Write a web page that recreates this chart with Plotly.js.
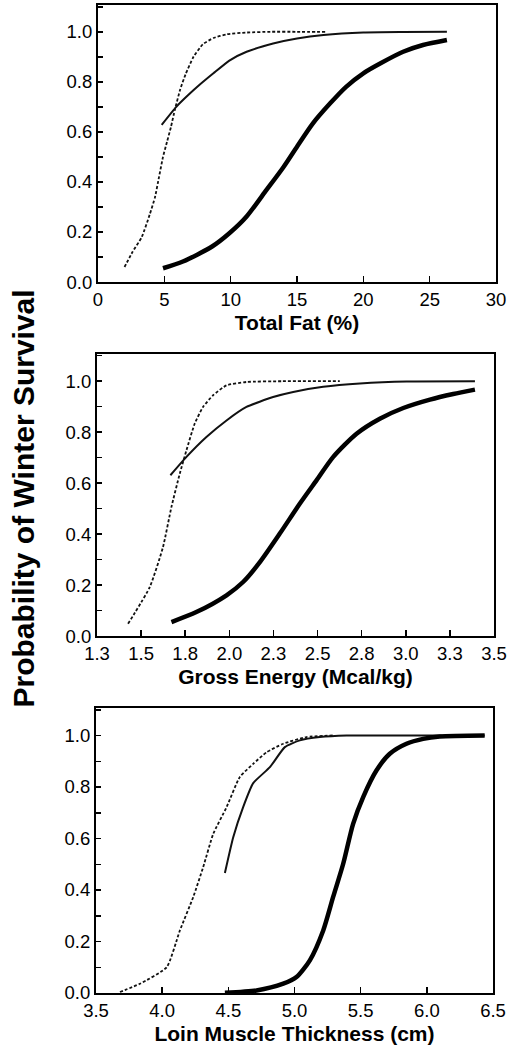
<!DOCTYPE html>
<html><head><meta charset="utf-8">
<script src="https://cdn.plot.ly/plotly-3.0.1.min.js"></script>
<style>html,body{margin:0;padding:0;background:#fff}</style>
</head><body><div id="chart" style="width:516px;height:1052px"></div>
<script>
// Panel 1: Total Fat (%)
const fatDottedX = [2.0, 2.6, 3.3, 3.9, 4.3, 4.6, 4.9, 5.2, 5.5, 5.8, 6.2, 6.6, 7.2, 7.9, 8.7, 9.7, 11.2, 13.0, 15.0, 17.2];
const fatDottedY = [0.06, 0.12, 0.18, 0.27, 0.34, 0.42, 0.50, 0.56, 0.62, 0.69, 0.77, 0.83, 0.90, 0.95, 0.975, 0.99, 0.997, 1.0, 1.0, 1.0];
const fatThinX = [4.8, 5.9, 6.8, 7.7, 8.7, 9.9, 11.2, 13.2, 15.0, 17.0, 20.0, 23.0, 26.3];
const fatThinY = [0.628, 0.70, 0.747, 0.79, 0.834, 0.885, 0.92, 0.953, 0.973, 0.987, 0.997, 0.999, 1.0];
const fatThickX = [4.9, 6.4, 8.6, 9.9, 11.2, 12.7, 14.0, 15.0, 16.2, 17.5, 18.7, 20.0, 21.3, 23.0, 24.5, 26.3];
const fatThickY = [0.055, 0.082, 0.142, 0.195, 0.262, 0.368, 0.461, 0.541, 0.634, 0.714, 0.78, 0.834, 0.874, 0.92, 0.947, 0.967];

// Panel 2: Gross Energy (Mcal/kg)
const geDottedX = [1.426, 1.549, 1.624, 1.672, 1.719, 1.757, 1.804, 1.851, 1.908, 1.984, 2.097, 2.3, 2.626];
const geDottedY = [0.048, 0.192, 0.349, 0.507, 0.637, 0.729, 0.834, 0.899, 0.945, 0.984, 0.997, 1.0, 1.0];
const geThinX = [1.666, 1.757, 1.870, 1.984, 2.097, 2.248, 2.362, 2.532, 2.74, 3.005, 3.392];
const geThinY = [0.631, 0.703, 0.781, 0.846, 0.899, 0.938, 0.958, 0.978, 0.991, 0.999, 1.0];
const geThickX = [1.672, 1.813, 1.984, 2.078, 2.173, 2.286, 2.4, 2.494, 2.589, 2.721, 2.853, 2.986, 3.137, 3.269, 3.392];
const geThickY = [0.055, 0.094, 0.16, 0.212, 0.29, 0.402, 0.52, 0.611, 0.703, 0.794, 0.853, 0.895, 0.928, 0.95, 0.967];
const geTickVals = [1.25, 1.5, 1.75, 2.0, 2.25, 2.5, 2.75, 3.0, 3.25, 3.5];
const geTickText = ['1.3', '1.5', '1.8', '2.0', '2.3', '2.5', '2.8', '3.0', '3.3', '3.5'];

// Panel 3: Loin Muscle Thickness (cm)
const loinDottedX = [3.681, 3.832, 4.034, 4.134, 4.235, 4.31, 4.386, 4.487, 4.587, 4.688, 4.789, 4.915, 5.09, 5.29];
const loinDottedY = [0.004, 0.036, 0.10, 0.243, 0.373, 0.489, 0.618, 0.722, 0.839, 0.89, 0.935, 0.968, 0.994, 1.0];
const loinThinX = [4.474, 4.537, 4.612, 4.688, 4.814, 4.927, 5.04, 5.191, 5.393, 6.0, 6.437];
const loinThinY = [0.466, 0.605, 0.722, 0.815, 0.877, 0.955, 0.981, 0.994, 1.0, 1.0, 1.0];
const loinThickX = [4.474, 4.713, 4.915, 5.015, 5.116, 5.217, 5.292, 5.368, 5.443, 5.519, 5.619, 5.72, 5.846, 5.972, 6.098, 6.437];
const loinThickY = [0.001, 0.01, 0.036, 0.062, 0.127, 0.243, 0.373, 0.502, 0.657, 0.761, 0.864, 0.929, 0.968, 0.987, 0.996, 1.0];

const yTickVals = [0, 0.2, 0.4, 0.6, 0.8, 1.0];
const xTitles = ['Total Fat (%)', 'Gross Energy (Mcal/kg)', 'Loin Muscle Thickness (cm)'];
const yTitle = 'Probability of Winter Survival';

const FONT = 'Liberation Sans, Arial, sans-serif';
const dotted = {color: '#111', width: 1.8, dash: '3px,2px', shape: 'spline', smoothing: 0.5};
const thin = {color: '#111', width: 2, shape: 'spline', smoothing: 0.5};
const thick = {color: '#000', width: 4.5, shape: 'spline', smoothing: 0.7};

function tr(x, y, line, ax) {
  return {x: x, y: y, type: 'scatter', mode: 'lines', line: line, xaxis: 'x' + ax, yaxis: 'y' + ax, hoverinfo: 'skip'};
}
const data = [
  tr(fatDottedX, fatDottedY, dotted, ''), tr(fatThinX, fatThinY, thin, ''), tr(fatThickX, fatThickY, thick, ''),
  tr(geDottedX, geDottedY, dotted, '2'), tr(geThinX, geThinY, thin, '2'), tr(geThickX, geThickY, thick, '2'),
  tr(loinDottedX, loinDottedY, dotted, '3'), tr(loinThinX, loinThinY, thin, '3'), tr(loinThickX, loinThickY, thick, '3')
];

function xax(domain, range, anchor, title, extra) {
  return Object.assign({
    domain: domain, range: range, anchor: anchor,
    showgrid: false, zeroline: false, showline: true, mirror: true,
    linecolor: '#000', linewidth: 2,
    ticks: 'inside', ticklen: 6, tickwidth: 1.5, tickcolor: '#000',
    tickfont: {family: FONT, size: 18.5, color: '#000'},
    title: {text: title, font: {family: FONT, size: 21, color: '#000', weight: 'bold'}, standoff: 6}
  }, extra || {});
}
function yax(domain, anchor) {
  return {
    domain: domain, range: [0, 1.107], anchor: anchor,
    showgrid: false, zeroline: false, showline: true, mirror: true,
    linecolor: '#000', linewidth: 2,
    tickvals: yTickVals, tickformat: '.1f',
    ticks: 'inside', ticklen: 5, tickwidth: 1.5, tickcolor: '#000',
    minor: {dtick: 0.1, tick0: 0, ticks: 'inside', ticklen: 5, tickwidth: 1.5, tickcolor: '#000', showgrid: false},
    tickfont: {family: FONT, size: 18.5, color: '#000'}
  };
}

const layout = {
  width: 516, height: 1052,
  margin: {l: 96, r: 20, t: 5, b: 59},
  paper_bgcolor: '#fff', plot_bgcolor: '#fff',
  showlegend: false,
  font: {family: FONT, color: '#000'},
  xaxis: xax([0.005, 1.0], [0, 30], 'y', xTitles[0], {tickvals: [0, 5, 10, 15, 20, 25, 30]}),
  yaxis: yax([0.7196, 1.0], 'x'),
  xaxis2: xax([0.0025, 0.995], [1.25, 3.5], 'y2', xTitles[1], {tickvals: geTickVals, ticktext: geTickText}),
  yaxis2: yax([0.3613, 0.6468], 'x2'),
  xaxis3: xax([0, 0.9925], [3.5, 6.5], 'y3', xTitles[2], {tickvals: [3.5, 4.0, 4.5, 5.0, 5.5, 6.0, 6.5], tickformat: '.1f'}),
  yaxis3: yax([0, 0.2885], 'x3'),
  annotations: [{
    text: yTitle, textangle: -90, xref: 'paper', yref: 'paper',
    x: -0.18, y: 0.5005, xanchor: 'center', yanchor: 'middle', showarrow: false,
    font: {family: FONT, size: 30, color: '#000', weight: 'bold'}
  }]
};

Plotly.newPlot('chart', data, layout, {staticPlot: true, displayModeBar: false});
</script>
</body></html>
